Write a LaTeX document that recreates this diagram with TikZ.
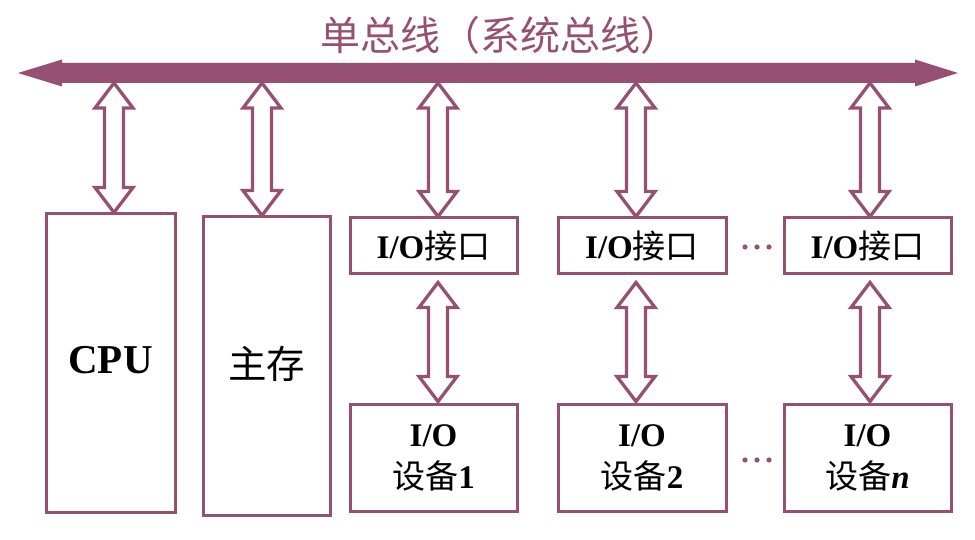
\documentclass[tikz,border=0pt]{standalone}
\usepackage{fontspec}
\setmainfont{Liberation Serif}
\newfontfamily\cjk{Noto Sans CJK SC}
\usetikzlibrary{calc}
\definecolor{busc}{RGB}{150,80,115}
\newcommand\dblarr[2]{%
  \draw[arr] let \p1=#1, \p2=#2 in
    (\x1,\y1) -- (\x1+19pt,\y1-25pt) -- (\x1+9.5pt,\y1-25pt) -- (\x1+9.5pt,\y2+25pt)
    -- (\x1+19pt,\y2+25pt) -- (\x1,\y2) -- (\x1-19pt,\y2+25pt) -- (\x1-9.5pt,\y2+25pt)
    -- (\x1-9.5pt,\y1-25pt) -- (\x1-19pt,\y1-25pt) -- cycle;}
\begin{document}
\begin{tikzpicture}[x=1pt,y=-1pt,
  box/.style={draw=busc, line width=3pt, inner sep=0pt, align=center, fill=white},
  arr/.style={draw=busc, line width=3.3pt, fill=white, line join=miter, miter limit=3},
  txt/.style={font=\fontsize{33}{42}\selectfont},
  dotc/.style={fill=busc}]
\useasboundingbox (0,0) rectangle (975,540);
\node[text=busc, font=\cjk\fontsize{40}{42}\selectfont] (title) at (500,35) {单总线（系统总线）};
% bus
\fill[busc] (18,73) -- (62,59.5) -- (62,63) -- (915,63) -- (915,59.5) -- (958,73)
  -- (915,86.5) -- (915,83) -- (62,83) -- (62,86.5) -- cycle;
\coordinate (b1) at (114,83);
\coordinate (b2) at (262,83);
\coordinate (b3) at (438,83);
\coordinate (b4) at (636,83);
\coordinate (b5) at (870,83);
% boxes
\node[box, minimum width=129pt, minimum height=298pt, font=\fontsize{41}{42}\selectfont\bfseries] (cpu) at (110.5,363) {\raisebox{6pt}{CPU}};
\node[box, minimum width=127pt, minimum height=298pt, font=\cjk\fontsize{38.5}{40}\selectfont] (mem) at (266.5,366) {\raisebox{7pt}{主存}};
\node[box, txt, minimum width=167pt, minimum height=56pt] (if1) at (433.5,246) {\textbf{I/O}{\cjk 接口}};
\node[box, txt, minimum width=168pt, minimum height=56pt] (if2) at (642,246) {\textbf{I/O}{\cjk 接口}};
\node[box, txt, minimum width=167pt, minimum height=56pt] (if3) at (867.5,246) {\textbf{I/O}{\cjk 接口}};
\node[box, txt, minimum width=167pt, minimum height=107pt] (dv1) at (433.5,457.5) {\textbf{I/O}\\{\cjk 设备}\textbf{1}};
\node[box, txt, minimum width=168pt, minimum height=107pt] (dv2) at (642,457.5) {\textbf{I/O}\\{\cjk 设备}\textbf{2}};
\node[box, txt, minimum width=167pt, minimum height=107pt] (dv3) at (867.5,457.5) {\textbf{I/O}\\{\cjk 设备}\textbf{\itshape n}};
% arrows
\dblarr{(b1)}{(cpu.north -| b1)}
\dblarr{(b2)}{(mem.north -| b2)}
\dblarr{(b3)}{(if1.north -| b3)}
\dblarr{(b4)}{(if2.north -| b4)}
\dblarr{(b5)}{(if3.north -| b5)}
\dblarr{($(if1.south -| b3)+(0,7)$)}{($(dv1.north -| b3)+(0,-1)$)}
\dblarr{($(if2.south -| b4)+(0,7)$)}{($(dv2.north -| b4)+(0,-1)$)}
\dblarr{($(if3.south -| b5)+(0,7)$)}{($(dv3.north -| b5)+(0,-1)$)}
% dots
\foreach \xx in {745,757,769} {
  \fill[dotc] (\xx,247) circle (2.6pt);
  \fill[dotc] (\xx,460) circle (2.6pt);
}
\end{tikzpicture}
\end{document}
